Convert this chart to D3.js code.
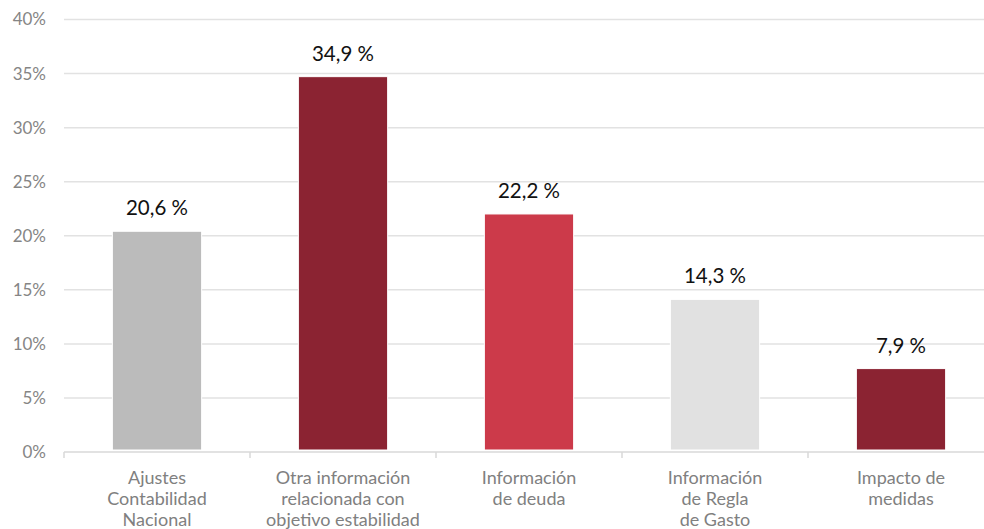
<!DOCTYPE html>
<html>
<head>
<meta charset="utf-8">
<script src="https://cdnjs.cloudflare.com/ajax/libs/d3/7.8.5/d3.min.js"></script>
<style>
  body { margin: 0; background: #fff; }
  svg { display: block; font-family: Lato, "Open Sans", sans-serif; }
</style>
</head>
<body>
<div id="chart"></div>
<script>
// Data
const categories = [
    ["Ajustes", "Contabilidad", "Nacional"],
    ["Otra información", "relacionada con", "objetivo estabilidad"],
    ["Información", "de deuda"],
    ["Información", "de Regla", "de Gasto"],
    ["Impacto de", "medidas"]
];
const values = [20.6, 34.9, 22.2, 14.3, 7.9];
const valueLabels = ["20,6 %", "34,9 %", "22,2 %", "14,3 %", "7,9 %"];
const barColors = ["#bbbbbb", "#8b2332", "#cc3a4a", "#e1e1e1", "#8b2332"];
const yTicks = [0, 5, 10, 15, 20, 25, 30, 35, 40];

const width = 984, height = 529;
const plotLeft = 64, plotRight = 994, plotTop = 19.5, plotBottom = 452;

const svg = d3.select("#chart")
    .append("svg")
    .attr("width", width)
    .attr("height", height);

const x = d3.scaleBand()
    .domain(d3.range(values.length))
    .range([plotLeft, plotRight])
    .paddingInner(0.52)
    .paddingOuter(0.26);

const y = d3.scaleLinear()
    .domain([0, 40])
    .range([plotBottom, plotTop]);

// gridlines (not the zero line)
svg.append("g")
    .selectAll("line")
    .data(yTicks.filter(d => d > 0))
    .enter()
    .append("line")
    .attr("x1", plotLeft)
    .attr("x2", plotRight)
    .attr("y1", d => y(d))
    .attr("y2", d => y(d))
    .attr("stroke", "#e2e2e2")
    .attr("stroke-width", 1.5);

// y labels
svg.append("g")
    .selectAll("text")
    .data(yTicks)
    .enter()
    .append("text")
    .attr("x", 46)
    .attr("y", d => y(d))
    .attr("dy", "0.35em")
    .attr("text-anchor", "end")
    .attr("fill", "#858585")
    .style("font-size", "17px")
    .text(d => d + "%");

// bars
svg.append("g")
    .selectAll("rect")
    .data(values)
    .enter()
    .append("rect")
    .attr("x", (d, i) => x(i))
    .attr("width", x.bandwidth())
    .attr("y", d => y(d) + 2)
    .attr("height", d => y(0) - y(d) - 4)
    .attr("fill", (d, i) => barColors[i])
    .attr("stroke", "#fff")
    .attr("stroke-width", 1);

// value labels
svg.append("g")
    .selectAll("text")
    .data(values)
    .enter()
    .append("text")
    .attr("x", (d, i) => x(i) + x.bandwidth() / 2)
    .attr("y", d => y(d) - 14)
    .attr("text-anchor", "middle")
    .attr("fill", "#111")
    .style("font-size", "20.5px")
    .text((d, i) => valueLabels[i]);

// x axis line and ticks at band boundaries
svg.append("line")
    .attr("x1", plotLeft)
    .attr("x2", plotRight)
    .attr("y1", y(0))
    .attr("y2", y(0))
    .attr("stroke", "#d9d9d9")
    .attr("stroke-width", 1.5);

const boundaries = d3.range(values.length + 1).map(i => plotLeft + i * x.step());
svg.append("g")
    .selectAll("line")
    .data(boundaries)
    .enter()
    .append("line")
    .attr("x1", d => d)
    .attr("x2", d => d)
    .attr("y1", y(0))
    .attr("y2", y(0) + 6)
    .attr("stroke", "#d9d9d9")
    .attr("stroke-width", 1.5);

// category labels
const cat = svg.append("g")
    .selectAll("text")
    .data(categories)
    .enter()
    .append("text")
    .attr("text-anchor", "middle")
    .attr("fill", "#808080")
    .style("font-size", "18px");

cat.selectAll("tspan")
    .data((d, i) => d.map(line => ({ line, i })))
    .enter()
    .append("tspan")
    .attr("x", d => x(d.i) + x.bandwidth() / 2)
    .attr("y", (d, j) => 484 + j * 21)
    .text(d => d.line);
</script>
</body>
</html>
